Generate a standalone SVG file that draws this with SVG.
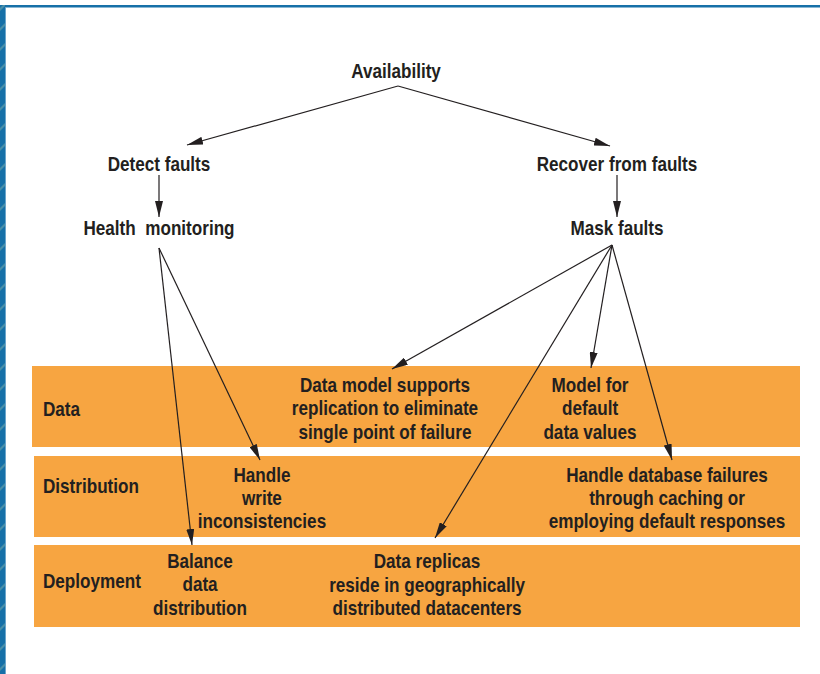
<svg xmlns="http://www.w3.org/2000/svg" width="820" height="674" viewBox="0 0 820 674">
<style>
text{font-family:"Liberation Sans",Arial,sans-serif;font-weight:bold;fill:#231f20;font-size:21px;text-anchor:middle;transform-box:fill-box;transform-origin:center;transform:scaleX(0.815)}
text.lab{text-anchor:start;transform-origin:left center}
.band{fill:#f7a541}
.c{stroke:#231f20;stroke-width:1.2;fill:none;marker-end:url(#ah)}
</style>
<defs>
<marker id="ah" viewBox="0 0 16 8" refX="16" refY="4" markerWidth="16" markerHeight="8" markerUnits="userSpaceOnUse" orient="auto">
<path d="M0,0 L16,4 L0,8 Z" fill="#231f20"/>
</marker>
<pattern id="dash" width="5" height="20" patternUnits="userSpaceOnUse">
<rect width="5" height="20" fill="#1670a8"/>
<path d="M0,8 L5,3 L5,6 L0,11 Z" fill="#4a8fa8"/>
</pattern>
</defs>
<rect width="820" height="674" fill="#fff"/>
<rect x="0" y="5" width="820" height="2.5" fill="#1670a8"/>
<rect x="0" y="5" width="5" height="669" fill="url(#dash)"/>
<rect x="5" y="7" width="1" height="667" fill="#6aa6cc"/>

<g id="bands">
<rect class="band" x="32" y="366" width="768" height="81"/>
<rect class="band" x="34" y="456" width="766" height="81"/>
<rect class="band" x="34" y="545" width="766" height="82"/>
</g>

<g id="connectors">
<path class="c" d="M398,86 L187,145"/>
<path class="c" d="M398,86 L610,146"/>
<path class="c" d="M159,175 L159,217"/>
<path class="c" d="M617,175 L617,217"/>
<path class="c" d="M159,248 L192,545"/>
<path class="c" d="M159,248 L260,460"/>
<path class="c" d="M612,245 L392,369"/>
<path class="c" d="M612,245 L591,368"/>
<path class="c" d="M612,245 L672,460"/>
<path class="c" d="M612,245 L435,538"/>
</g>

<g id="availability"><text x="396" y="78">Availability</text></g>
<g id="detect"><text x="159" y="171">Detect faults</text></g>
<g id="recover"><text x="617" y="171">Recover from faults</text></g>
<g id="health"><text x="159" y="235" style="white-space:pre">Health  monitoring</text></g>
<g id="mask"><text x="617" y="235">Mask faults</text></g>

<g id="lab-data"><text class="lab" x="43" y="416">Data</text></g>
<g id="lab-distribution"><text class="lab" x="43" y="493">Distribution</text></g>
<g id="lab-deployment"><text class="lab" x="43" y="588">Deployment</text></g>

<g id="data-model"><text x="385" y="392">Data model supports</text><text x="385" y="415">replication to eliminate</text><text x="385" y="439">single point of failure</text></g>
<g id="model-default"><text x="590" y="392">Model for</text><text x="590" y="415">default</text><text x="590" y="439">data values</text></g>
<g id="handle-write"><text x="262" y="482">Handle</text><text x="262" y="505">write</text><text x="262" y="528">inconsistencies</text></g>
<g id="handle-db"><text x="667" y="482">Handle database failures</text><text x="667" y="505">through caching or</text><text x="667" y="528">employing default responses</text></g>
<g id="balance"><text x="200" y="568">Balance</text><text x="200" y="591">data</text><text x="200" y="615">distribution</text></g>
<g id="replicas"><text x="427" y="568">Data replicas</text><text x="427" y="592">reside in geographically</text><text x="427" y="615">distributed datacenters</text></g>
</svg>
